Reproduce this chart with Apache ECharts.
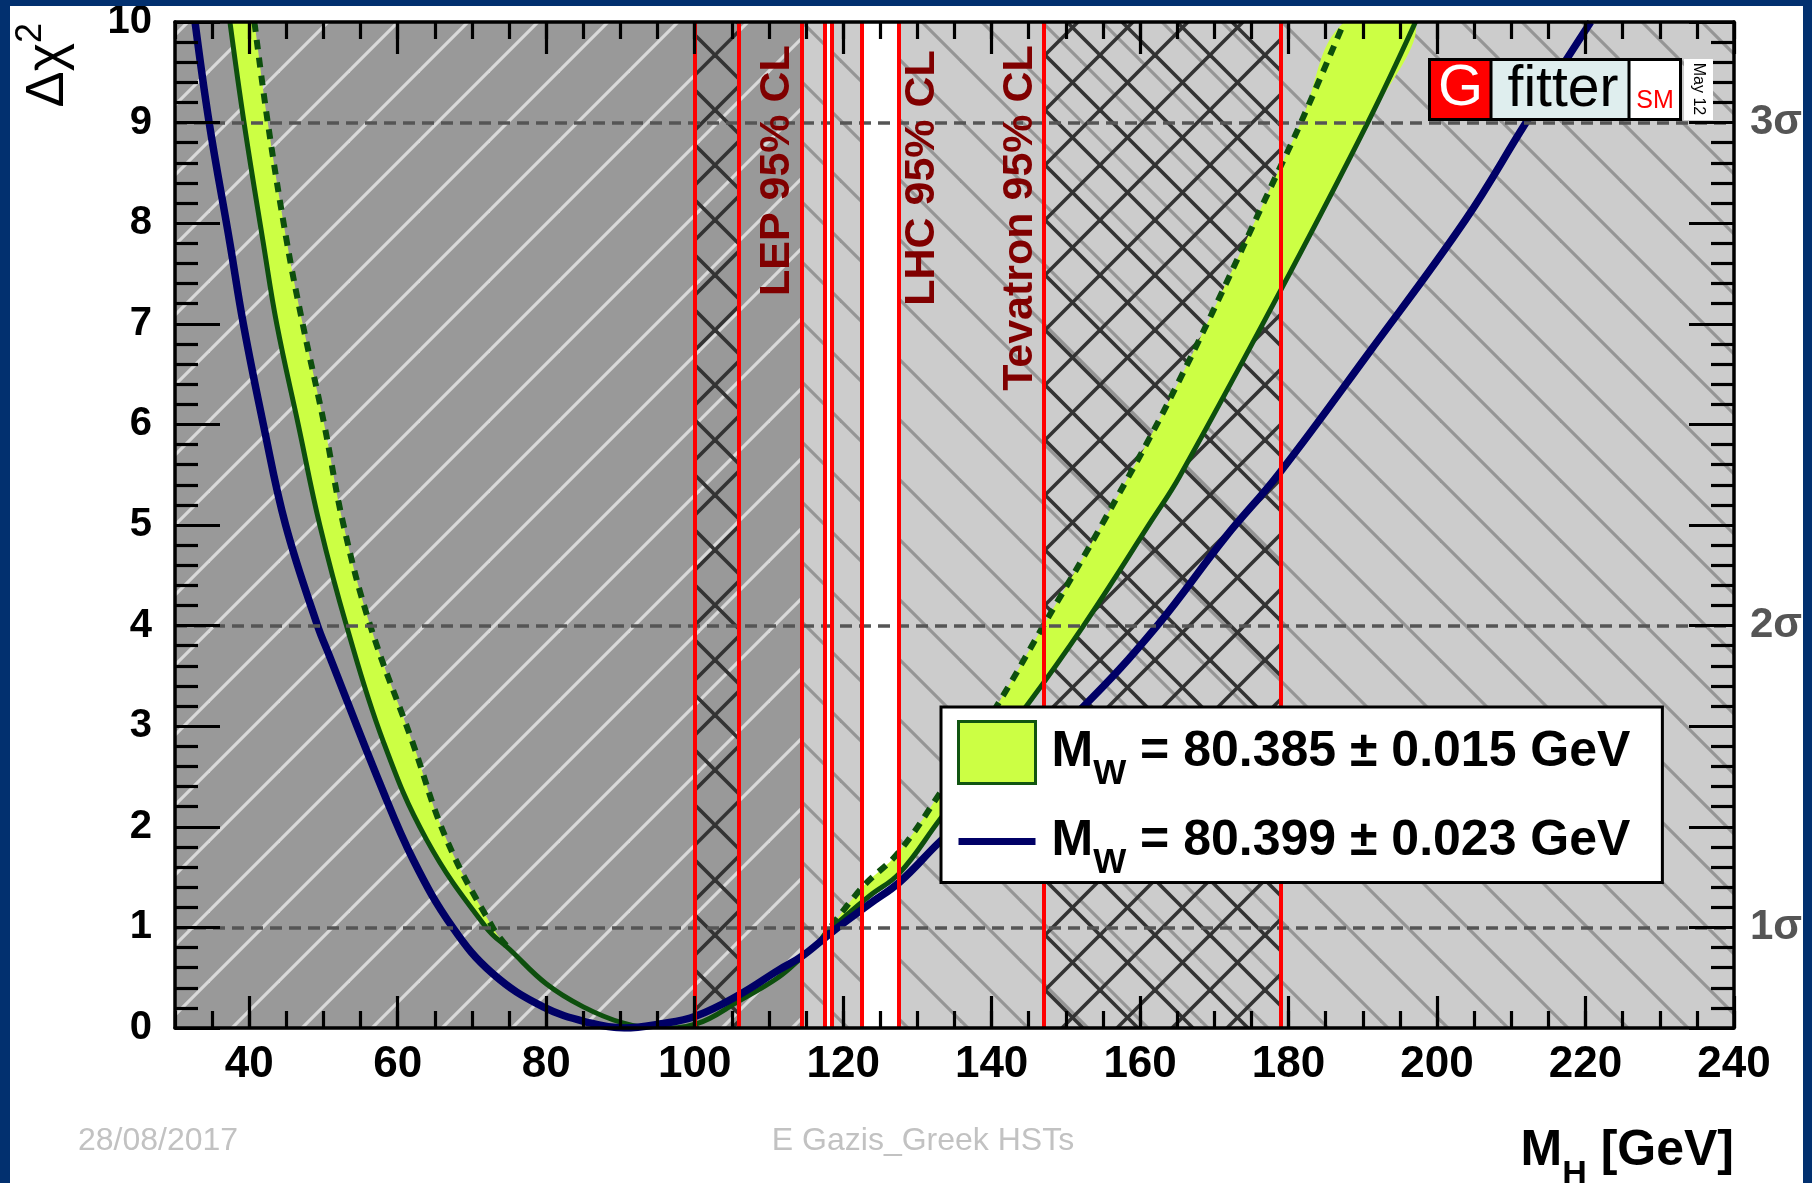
<!DOCTYPE html>
<html>
<head>
<meta charset="utf-8">
<script src="https://cdn.jsdelivr.net/npm/echarts@6/dist/echarts.min.js"></script>
<style>
html,body{margin:0;padding:0;background:#ffffff;}
#chart{width:1812px;height:1183px;}
</style>
</head>
<body>
<div id="chart"></div>
<script>
// ---------------- data ----------------
const xMajorTicks = [40, 60, 80, 100, 120, 140, 160, 180, 200, 220, 240];
const sigmaLevels = [1, 4, 9];
const sigmaLabels = ['1σ', '2σ', '3σ'];

// Δχ² vs M_H for M_W = 80.399 ± 0.023 GeV (blue)
const blueCurve = [
  [32.7, 10.0], [34.6, 9.0], [37.4, 7.8], [39.2, 7.0], [41.9, 6.0], [44.9, 5.0],
  [49.2, 4.0], [50.8, 3.7], [57.6, 2.43], [62.1, 1.67], [67.4, 1.0], [72.8, 0.54],
  [79.6, 0.21], [85.9, 0.05], [90.5, 0.0], [95.3, 0.04], [100.2, 0.12], [106.0, 0.33],
  [111.4, 0.58], [114.4, 0.71], [118.6, 0.96], [123.5, 1.23], [127.6, 1.45], [133.0, 1.85],
  [152.3, 3.19], [162.2, 3.99], [171.5, 4.88], [178.7, 5.51], [190.8, 6.71],
  [203.8, 8.03], [211.9, 8.99], [220.7, 10.0]
];
// M_W = 80.385 ± 0.015 GeV : solid edge (lower Δχ²) of the band
const solidGreen = [
  [37.4, 10.0], [39.3, 9.0], [41.9, 7.8], [43.7, 7.0], [46.6, 6.0], [49.5, 5.0],
  [53.1, 4.0], [58.0, 2.86], [63.9, 1.87], [71.9, 1.0], [75.1, 0.78], [80.0, 0.44],
  [85.0, 0.21], [90.3, 0.05], [94.5, 0.0], [100.2, 0.04], [106.0, 0.27], [111.4, 0.51],
  [114.4, 0.70], [117.0, 0.87], [118.6, 1.0], [123.5, 1.31], [127.6, 1.54], [133.0, 2.07],
  [144.6, 3.19], [152.3, 3.99], [161.6, 5.05], [165.3, 5.48], [178.7, 7.30],
  [190.6, 8.99], [197.1, 10.0]
];
// dashed edge (upper Δχ²) of the band, two branches
const dashedLeft = [
  [40.7, 10.0], [42.5, 9.0], [45.1, 7.8], [47.2, 7.0], [50.1, 6.0], [52.7, 5.0],
  [56.3, 4.0], [61.9, 2.86], [66.6, 1.87], [72.8, 1.0], [75.1, 0.78]
];
const dashedRight = [
  [117.0, 0.87], [122.6, 1.40], [127.4, 1.74], [133.0, 2.33], [140.6, 3.19],
  [146.9, 3.99], [155.2, 5.05], [165.3, 6.44], [178.7, 8.53], [181.6, 8.99], [187.5, 10.0]
];

// exclusion limits (GeV)
const lepLimit = 114.4;
const lhcAllowed = [[117.5, 118.5], [122.5, 127.5]];
const tevatronExcluded = [[100, 106], [147, 179]];
const limitLines = [100, 106, 114.4, 117.5, 118.5, 122.5, 127.5, 147, 179];
const limitLabels = [
  {x: 111.1, y: 9.77, text: 'LEP 95% CL'},
  {x: 130.7, y: 9.72, text: 'LHC 95% CL'},
  {x: 143.9, y: 9.77, text: 'Tevatron 95% CL'}
];
const legendNames = ['M_W = 80.385 ± 0.015 GeV', 'M_W = 80.399 ± 0.023 GeV'];
const legendValues = [['80.385', '0.015'], ['80.399', '0.023']];

const X_MIN = 30, X_MAX = 240, Y_MIN = 0, Y_MAX = 10;
const FONT = '"Liberation Sans", Arial, Helvetica, sans-serif';
const SMOOTH = 0.4;

// ---------------- hatch patterns ----------------
function hatchTile(w, h, bg, lineColor, lw, dirs) {
  const c = document.createElement('canvas');
  c.width = w; c.height = h;
  const g = c.getContext('2d');
  if (bg) { g.fillStyle = bg; g.fillRect(0, 0, w, h); }
  g.strokeStyle = lineColor; g.lineWidth = lw;
  dirs.forEach(function (d) {
    [-w, 0, w].forEach(function (off) {
      g.beginPath();
      if (d === '/') { g.moveTo(off - w, 2 * h); g.lineTo(off + 2 * w, -h); }
      else { g.moveTo(off - w, -h); g.lineTo(off + 2 * w, 2 * h); }
      g.stroke();
    });
  });
  return {image: c, repeat: 'repeat'};
}
const fills = {
  lep: hatchTile(70, 70, '#999999', '#d9d9d9', 3.2, ['/']),
  lhc: hatchTile(60, 60, '#cccccc', '#959595', 3.2, ['\\']),
  allowed: '#ffffff',
  tev: hatchTile(55, 55, null, '#333333', 3.6, ['/', '\\'])
};

// regions built from the limits
const regions = [];
regions.push({x0: X_MIN, x1: lepLimit, kind: 'lep'});
let cur = lepLimit;
lhcAllowed.forEach(function (a) {
  regions.push({x0: cur, x1: a[0], kind: 'lhc'});
  regions.push({x0: a[0], x1: a[1], kind: 'allowed'});
  cur = a[1];
});
regions.push({x0: cur, x1: X_MAX, kind: 'lhc'});
tevatronExcluded.forEach(function (t) { regions.push({x0: t[0], x1: t[1], kind: 'tev'}); });

// band polygons: dashed branch + solid edge back (end points doubled so the
// closed smooth outline follows the same curves as the open edge lines)
function bandOf(dashed, keep) {
  const solidPart = solidGreen.filter(keep).reverse();
  const first = dashed[0], last = solidPart[solidPart.length - 1];
  return [first].concat(dashed, solidPart, [last]);
}
const bands = [
  bandOf(dashedLeft, function (p) { return p[0] <= 75.1; }),
  bandOf(dashedRight, function (p) { return p[0] >= 117.0; })
];
const greenEdges = [
  {pts: solidGreen, width: 5, dash: null},
  {pts: dashedLeft, width: 6, dash: [10, 8]},
  {pts: dashedRight, width: 6, dash: [10, 8]}
];

// ---------------- chart ----------------
const chart = echarts.init(document.getElementById('chart'), null, {renderer: 'canvas', width: 1812, height: 1183});

const axisLineStyle = {color: '#000000', width: 3.5};
function xAxisBase(pos, major) {
  return {
    type: 'value', position: pos, min: X_MIN, max: X_MAX, z: 10,
    axisLine: {show: major, onZero: false, lineStyle: axisLineStyle},
    splitLine: {show: false},
    axisTick: major
      ? {show: true, inside: true, length: 32, lineStyle: {color: '#000', width: 3.2}, customValues: xMajorTicks}
      : {show: true, inside: true, length: 17, lineStyle: {color: '#000', width: 3.2}},
    interval: major ? undefined : 5,
    axisLabel: {show: false}
  };
}
const xAxes = [xAxisBase('bottom', true), xAxisBase('bottom', false), xAxisBase('top', true), xAxisBase('top', false)];
xAxes[0].axisLabel = {
  show: true, customValues: xMajorTicks, margin: 15, color: '#000',
  fontSize: 44, fontWeight: 'bold', fontFamily: FONT
};
xAxes[0].name = '{m|M}{s|H}{m| [GeV]}';
xAxes[0].nameLocation = 'end';
xAxes[0].nameGap = 0;
xAxes[0].nameTextStyle = {
  align: 'right', verticalAlign: 'top', padding: [98, 0, 0, 0],
  rich: {
    m: {fontSize: 50, fontWeight: 'bold', fontFamily: FONT, color: '#000', lineHeight: 50, verticalAlign: 'top'},
    s: {fontSize: 34, fontWeight: 'bold', fontFamily: FONT, color: '#000', lineHeight: 34, verticalAlign: 'top', padding: [32, 0, 0, 0]}
  }
};

function yAxisBase(pos) {
  return {
    type: 'value', position: pos, min: Y_MIN, max: Y_MAX, interval: 1, z: 10,
    axisLine: {show: true, onZero: false, lineStyle: axisLineStyle},
    splitLine: {show: false},
    axisTick: {show: true, inside: true, length: 45, lineStyle: {color: '#000', width: 3.2}},
    minorTick: {show: true, splitNumber: 5, length: 23, lineStyle: {color: '#000', width: 3.2}},
    axisLabel: {show: false}
  };
}
const yAxes = [yAxisBase('left'), yAxisBase('right')];
yAxes[0].axisLabel = {show: true, margin: 23, color: '#000', fontSize: 40, fontWeight: 'bold', fontFamily: FONT};
yAxes[0].name = '{a|Δχ}{b|2}';
yAxes[0].nameLocation = 'end';
yAxes[0].nameGap = -1;
yAxes[0].nameRotate = 90;
yAxes[0].nameTextStyle = {
  align: 'right', verticalAlign: 'bottom', padding: [0, 0, 100, 0],
  rich: {
    a: {fontSize: 54, fontFamily: FONT, color: '#000', lineHeight: 62, verticalAlign: 'bottom'},
    b: {fontSize: 36, fontFamily: FONT, color: '#000', lineHeight: 36, verticalAlign: 'top'}
  }
};
yAxes[1].axisLabel = {
  show: true, customValues: sigmaLevels, margin: 16, color: '#555555',
  fontSize: 42, fontWeight: 'bold', fontFamily: FONT,
  formatter: function (v) { const i = sigmaLevels.indexOf(v); return i >= 0 ? sigmaLabels[i] : ''; }
};

const legendRich = {
  m: {fontSize: 50, fontWeight: 'bold', fontFamily: FONT, color: '#000', lineHeight: 50, verticalAlign: 'top', padding: [0, 0, 0, 11]},
  s: {fontSize: 35, fontWeight: 'bold', fontFamily: FONT, color: '#000', lineHeight: 35, verticalAlign: 'top', padding: [29, 0, 0, 0]},
  t: {fontSize: 50, fontWeight: 'bold', fontFamily: FONT, color: '#000', lineHeight: 50, verticalAlign: 'top'}
};

const option = {
  animation: false,
  backgroundColor: '#ffffff',
  grid: {left: 175, right: 78, top: 22, bottom: 155, containLabel: false, outerBoundsMode: 'none'},
  xAxis: xAxes,
  yAxis: yAxes,
  legend: {
    show: true, orient: 'vertical', left: 941, top: 707,
    padding: [13, 32, 2, 16], itemGap: 25, itemWidth: 77, itemHeight: 62,
    backgroundColor: '#ffffff', borderColor: '#000000', borderWidth: 3, borderRadius: 0,
    selectedMode: false, z: 20,
    data: [
      {name: legendNames[0], icon: 'rect', itemStyle: {color: '#ccff44', borderColor: '#115511', borderWidth: 3}},
      {name: legendNames[1], icon: 'path://M0,0H77V7H0Z', itemStyle: {color: '#000066', borderWidth: 0}}
    ],
    formatter: function (name) {
      const i = legendNames.indexOf(name);
      return '{m|M}{s|W}{t| = ' + legendValues[i][0] + ' ± ' + legendValues[i][1] + ' GeV}';
    },
    textStyle: {rich: legendRich}
  },
  graphic: [
    // page frame
    {type: 'rect', z: 100, silent: true, shape: {x: 0, y: 0, width: 1812, height: 6}, style: {fill: '#02306f'}},
    {type: 'rect', z: 100, silent: true, shape: {x: 0, y: 0, width: 10, height: 1183}, style: {fill: '#02306f'}},
    {type: 'rect', z: 100, silent: true, shape: {x: 1803, y: 0, width: 9, height: 1183}, style: {fill: '#02306f'}},
    // Gfitter logo
    {type: 'rect', z: 50, silent: true, shape: {x: 1429.5, y: 59.5, width: 251, height: 60}, style: {fill: '#dfeeee', stroke: '#000', lineWidth: 3}},
    {type: 'rect', z: 51, silent: true, shape: {x: 1431, y: 61, width: 59, height: 57}, style: {fill: '#ff0000'}},
    {type: 'rect', z: 51, silent: true, shape: {x: 1630.5, y: 61, width: 48.5, height: 57}, style: {fill: '#ffffff'}},
    {type: 'line', z: 52, silent: true, shape: {x1: 1491, y1: 60, x2: 1491, y2: 119}, style: {stroke: '#000', lineWidth: 3}},
    {type: 'line', z: 52, silent: true, shape: {x1: 1629, y1: 60, x2: 1629, y2: 119}, style: {stroke: '#000', lineWidth: 3}},
    {type: 'text', z: 53, silent: true, x: 1460.5, y: 89, style: {text: 'G', fill: '#ffffff', font: '58px ' + FONT, align: 'center', verticalAlign: 'middle'}},
    {type: 'text', z: 53, silent: true, x: 1563, y: 90, style: {text: 'fitter', fill: '#000000', font: '57px ' + FONT, align: 'center', verticalAlign: 'middle'}},
    {type: 'text', z: 53, silent: true, x: 1655, y: 101, style: {text: 'SM', fill: '#ff0000', font: '25px ' + FONT, align: 'center', verticalAlign: 'middle'}},
    {type: 'rect', z: 51, silent: true, shape: {x: 1684, y: 59, width: 29, height: 61}, style: {fill: '#ffffff'}},
    {type: 'text', z: 53, silent: true, x: 1698, y: 89, rotation: -Math.PI / 2, style: {text: 'May 12', fill: '#000000', font: '16px ' + FONT, align: 'center', verticalAlign: 'middle'}},
    // footer
    {type: 'text', z: 53, silent: true, x: 78, y: 1141, style: {text: '28/08/2017', fill: '#c2c2c2', font: '32px ' + FONT, align: 'left', verticalAlign: 'middle'}},
    {type: 'text', z: 53, silent: true, x: 923, y: 1141, style: {text: 'E Gazis_Greek HSTs', fill: '#c2c2c2', font: '32px ' + FONT, align: 'center', verticalAlign: 'middle'}}
  ],
  series: [
    {
      name: 'exclusions', type: 'custom', z: 1, silent: true, clip: true,
      xAxisIndex: 0, yAxisIndex: 0,
      data: regions.map(function (r, i) { return [r.x0, r.x1, i]; }),
      encode: {x: [0, 1]},
      renderItem: function (params, api) {
        const r = regions[params.dataIndex];
        const p0 = api.coord([r.x0, Y_MAX]);
        const p1 = api.coord([r.x1, Y_MIN]);
        return {
          type: 'rect',
          shape: {x: p0[0], y: p0[1], width: p1[0] - p0[0], height: p1[1] - p0[1]},
          style: {fill: fills[r.kind]}
        };
      }
    },
    {
      name: 'sigma', type: 'line', data: [], z: 2, silent: true,
      markLine: {
        silent: true, symbol: ['none', 'none'], label: {show: false}, animation: false,
        emphasis: {disabled: true},
        lineStyle: {color: '#555555', width: 3.5, type: [12, 7]},
        data: sigmaLevels.map(function (v) { return {yAxis: v}; })
      }
    },
    {
      name: legendNames[0], type: 'custom', z: 3, silent: true, clip: true,
      color: '#ccff44',
      data: bands.map(function (b, i) { return [b[0][0], b[0][1], i]; }),
      encode: {x: 0, y: 1},
      renderItem: function (params, api) {
        const pts = bands[params.dataIndex].map(function (p) { return api.coord(p); });
        return {type: 'polygon', shape: {points: pts, smooth: SMOOTH}, style: {fill: '#ccff44', stroke: null}};
      }
    },
    {
      name: 'bandEdges', type: 'custom', z: 4, silent: true, clip: true,
      data: greenEdges.map(function (e, i) { return [e.pts[0][0], e.pts[0][1], i]; }),
      encode: {x: 0, y: 1},
      renderItem: function (params, api) {
        const e = greenEdges[params.dataIndex];
        const pts = e.pts.map(function (p) { return api.coord(p); });
        return {
          type: 'polyline', shape: {points: pts, smooth: SMOOTH},
          style: {fill: null, stroke: '#0d4f0d', lineWidth: e.width, lineDash: e.dash}
        };
      }
    },
    {
      name: legendNames[1], type: 'line', z: 4, silent: true, symbol: 'none', clip: true,
      smooth: SMOOTH, color: '#000066',
      data: blueCurve, lineStyle: {color: '#000066', width: 7.5}
    },
    {
      name: 'limits', type: 'line', data: [], z: 5, silent: true,
      markLine: {
        silent: true, symbol: ['none', 'none'], label: {show: false}, animation: false,
        emphasis: {disabled: true},
        lineStyle: {color: '#ff0000', width: 4, type: 'solid'},
        data: limitLines.map(function (v) { return {xAxis: v}; })
      }
    },
    {
      name: 'limitLabels', type: 'custom', z: 6, silent: true,
      data: limitLabels.map(function (l) { return [l.x, l.y]; }),
      encode: {x: 0, y: 1},
      renderItem: function (params, api) {
        const l = limitLabels[params.dataIndex];
        const p = api.coord([l.x, l.y]);
        return {
          type: 'text', x: p[0], y: p[1], rotation: Math.PI / 2,
          style: {text: l.text, fill: '#800000', font: 'bold 43px ' + FONT, align: 'right', verticalAlign: 'middle'}
        };
      }
    }
  ]
};
chart.setOption(option);
</script>
</body>
</html>
